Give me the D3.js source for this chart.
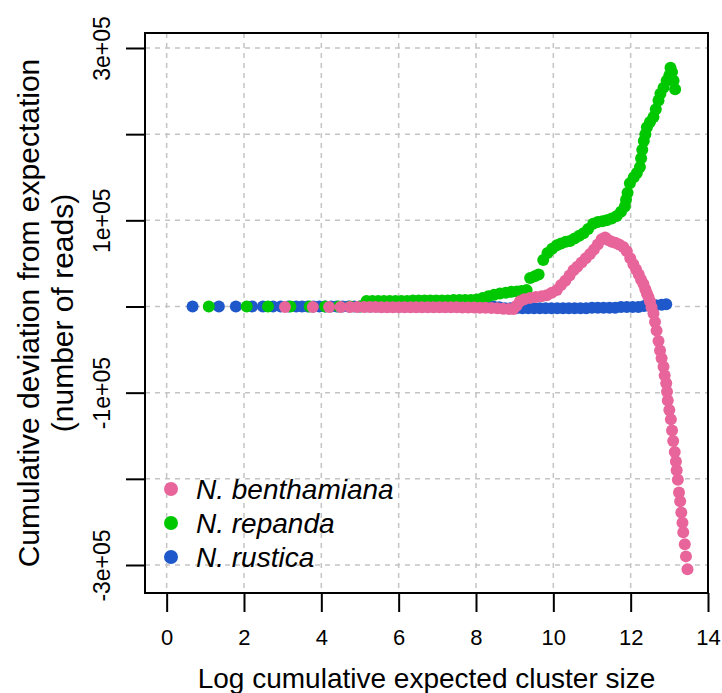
<!DOCTYPE html>
<html>
<head>
<meta charset="utf-8">
<script src="https://cdn.jsdelivr.net/npm/d3@7"></script>
<style>
body{margin:0;background:#fff;}
text{font-family:"Liberation Sans",Arial,sans-serif;fill:#000;}
</style>
</head>
<body>
<script>
//x ticks and y ticks with their labels (R style, every other y label dropped)
var xTicks = [0, 2, 4, 6, 8, 10, 12, 14];
var yTicks = [-300000, -200000, -100000, 0, 100000, 200000, 300000];
var yTickLabels = ["-3e+05", "", "-1e+05", "", "1e+05", "", "3e+05"];

//series names, in legend order
var seriesNames = ["N. benthamiana", "N. repanda", "N. rustica"];

//N. benthamiana: [log cumulative expected size, cumulative deviation]
var benthPts = [
[3.06,-500],[3.78,-500],[4.20,-500],[4.50,-500],[4.74,-500],[4.93,-500],[5.10,-500],[5.25,-500],[5.40,-500],
[5.55,-800],[5.70,-800],[5.85,-800],[6.00,-800],[6.15,-800],[6.30,-800],[6.45,-800],[6.60,-800],
[6.75,-1000],[6.90,-1000],[7.05,-1000],[7.20,-1000],[7.35,-1000],[7.50,-1000],[7.65,-1200],[7.80,-1200],
[7.95,-1200],[8.10,-1500],[8.25,-1500],[8.40,-1800],[8.55,-2000],[8.70,-2500],[8.85,-3000],[8.97,-3000],
[9.05,1000],[9.14,6000],[9.25,8500],[9.40,10000],[9.55,11000],[9.70,12000],[9.83,13000],[9.96,16000],
[10.09,19000],[10.20,25000],[10.31,30000],[10.42,36000],[10.52,42000],[10.62,46000],[10.73,51000],
[10.84,56000],[10.95,61000],[11.05,66000],[11.15,72000],[11.25,78000],[11.34,80000],[11.43,77000],
[11.51,75000],[11.60,74000],[11.70,72000],[11.81,69000],[11.90,64000],[11.99,56000],[12.07,49000],
[12.14,43000],[12.21,37000],[12.27,31000],[12.33,26000],[12.38,20000],[12.42,15000],[12.46,11000],
[12.50,6000],[12.54,-1000],[12.59,-8000],[12.63,-18000],[12.67,-28000],[12.72,-40000],[12.76,-51000],
[12.80,-60000],[12.85,-70000],[12.88,-80000],[12.92,-89000],[12.94,-99000],[12.96,-109000],
[13.00,-120000],[13.04,-131000],[13.07,-144000],[13.10,-156000],[13.14,-169000],[13.17,-180000],
[13.19,-190000],[13.22,-201000],[13.25,-216000],[13.28,-226000],[13.31,-239000],[13.34,-251000],
[13.36,-262000],[13.40,-276000],[13.43,-290000],[13.47,-305000]
];

//N. repanda
var repandaPts = [
[1.09,0],[2.07,0],[2.62,0],[3.20,0],[3.70,0],[4.10,0],[4.45,0],[4.75,0],[5.00,0],
[5.17,6500],[5.32,6500],[5.47,6500],[5.62,6500],[5.77,6500],[5.92,6500],[6.07,6500],[6.22,6500],
[6.37,7000],[6.52,7000],[6.67,7000],[6.82,7000],[6.97,7000],[7.12,7000],[7.27,7000],[7.42,7500],
[7.57,7500],[7.72,7500],[7.87,7500],[8.02,8000],[8.17,10000],[8.32,12000],[8.47,13500],[8.62,15000],
[8.77,16000],[8.92,17000],[9.06,17500],[9.18,18000],[9.31,19000],[9.40,33000],[9.52,35000],[9.62,37000],
[9.74,54000],[9.85,62000],[9.97,67000],[10.09,71000],[10.20,73000],[10.32,75000],[10.43,76000],
[10.55,79000],[10.67,82000],[10.78,85000],[10.90,90000],[11.03,96000],[11.15,98000],[11.27,99000],
[11.38,100000],[11.51,102000],[11.64,105000],[11.75,110000],[11.85,116000],[11.88,124000],[11.92,132000],
[11.98,143000],[12.08,150000],[12.16,155000],[12.24,162000],[12.27,172000],[12.30,182000],[12.34,192000],
[12.38,200000],[12.42,208000],[12.50,214000],[12.59,220000],[12.65,229000],[12.72,239000],[12.77,247000],
[12.85,254000],[12.93,262000],[13.00,268000],[13.03,277000],[13.07,272000],[13.11,262000],[13.15,252000]
];

//N. rustica
var rusticaPts = [
[0.67,0],[1.35,0],[1.79,0],[2.21,0],[2.49,0],[2.75,0],[2.95,0],[3.15,0],[3.35,0],[3.50,0],[3.65,0],
[3.80,0],[3.95,0],[4.10,0],[4.25,0],[4.40,0],[4.55,0],[4.70,0],[4.85,0],[5.00,0],[5.15,0],[5.30,0],
[5.45,0],[5.60,0],[5.75,0],[5.90,0],[6.05,0],[6.20,0],[6.35,0],[6.50,0],[6.65,0],[6.80,0],[6.95,0],
[7.10,0],[7.25,0],[7.40,0],[7.55,0],[7.70,0],[7.85,0],[8.00,0],[8.15,0],[8.30,0],[8.45,0],[8.60,-1000],
[8.75,-2000],[8.90,-2000],[9.05,-2000],[9.20,-2000],[9.35,-2000],[9.50,-2000],[9.65,-2000],[9.80,-2000],
[9.95,-2000],[10.10,-2000],[10.25,-2000],[10.40,-2000],[10.55,-2000],[10.70,-2000],[10.85,-2000],
[11.00,-1500],[11.15,-1500],[11.30,-1500],[11.45,-1500],[11.60,-1500],[11.75,-500],[11.90,-500],
[12.05,-500],[12.20,-500],[12.35,500],[12.50,1000],[12.65,1500],[12.80,2000],[12.92,2500]
];

window.onload = function(){
    //svg dimension variables
    var w = 722, h = 693;
    var left = 145, right = 708, top = 33, bottom = 593;

    var svg = d3.select("body")
        .append("svg")
        .attr("width", w)
        .attr("height", h)
        .style("background-color", "#fff");

    //scales
    var x = d3.scaleLinear().domain([-0.56, 14.0]).range([left, right]);
    var y = d3.scaleLinear().domain([-332500, 317400]).range([bottom, top]);

    var colors = ["#E8659B", "#00C800", "#1E58CA"];

    //dashed grid
    svg.append("g").selectAll("line")
        .data(xTicks)
        .enter()
        .append("line")
        .attr("x1", function(d){ return x(d); })
        .attr("x2", function(d){ return x(d); })
        .attr("y1", top)
        .attr("y2", bottom)
        .style("stroke", "#c4c4c4")
        .style("stroke-width", 1.5)
        .style("stroke-dasharray", "5,5");

    svg.append("g").selectAll("line")
        .data(yTicks)
        .enter()
        .append("line")
        .attr("x1", left)
        .attr("x2", right)
        .attr("y1", function(d){ return y(d); })
        .attr("y2", function(d){ return y(d); })
        .style("stroke", "#c4c4c4")
        .style("stroke-width", 1.5)
        .style("stroke-dasharray", "5,5");

    //points, drawn rustica first and benthamiana on top
    var series = [rusticaPts, repandaPts, benthPts];
    var seriesColors = [colors[2], colors[1], colors[0]];
    series.forEach(function(pts, i){
        svg.append("g").selectAll("circle")
            .data(pts)
            .enter()
            .append("circle")
            .attr("cx", function(d){ return x(d[0]); })
            .attr("cy", function(d){ return y(d[1]); })
            .attr("r", 6)
            .style("fill", seriesColors[i]);
    });

    //box
    svg.append("rect")
        .attr("x", left)
        .attr("y", top)
        .attr("width", right - left)
        .attr("height", bottom - top)
        .style("fill", "none")
        .style("stroke", "#000")
        .style("stroke-width", 2);

    //x axis
    var xAxis = svg.append("g")
        .attr("transform", "translate(0," + bottom + ")")
        .call(d3.axisBottom(x).tickValues(xTicks).tickSize(19).tickSizeOuter(0));
    xAxis.select(".domain").attr("d", "M" + x(0) + ",0H" + x(14)).style("stroke-width", 2);
    xAxis.selectAll(".tick line").style("stroke-width", 2);
    xAxis.selectAll(".tick text")
        .attr("y", 52)
        .attr("dy", 0)
        .style("font-size", "22px")
        .style("font-family", "Liberation Sans, Arial, sans-serif");

    //y axis
    var yAxis = svg.append("g")
        .attr("transform", "translate(" + left + ",0)")
        .call(d3.axisLeft(y).tickValues(yTicks).tickSize(19).tickSizeOuter(0)
            .tickFormat(function(d, i){ return yTickLabels[i]; }));
    yAxis.select(".domain").attr("d", "M0," + y(-300000) + "V" + y(300000)).style("stroke-width", 2);
    yAxis.selectAll(".tick line").style("stroke-width", 2);
    yAxis.selectAll(".tick text")
        .attr("transform", "rotate(-90)")
        .attr("x", 0)
        .attr("y", -35)
        .attr("dy", 0)
        .attr("text-anchor", "middle")
        .style("font-size", "23px")
        .style("font-family", "Liberation Sans, Arial, sans-serif");

    //axis titles
    svg.append("text")
        .attr("x", (left + right) / 2)
        .attr("y", 688)
        .attr("text-anchor", "middle")
        .style("font-size", "28px")
        .text("Log cumulative expected cluster size");

    var yTitle = svg.append("text")
        .attr("transform", "translate(39," + (top + bottom) / 2 + ") rotate(-90)")
        .attr("text-anchor", "middle")
        .style("font-size", "30px");
    yTitle.append("tspan").attr("x", 0).attr("y", 0).text("Cumulative deviation from expectation");
    yTitle.append("tspan").attr("x", 0).attr("y", 34).text("(number of reads)");

    //legend
    var legend = svg.append("g").selectAll("g")
        .data(seriesNames)
        .enter()
        .append("g")
        .attr("transform", function(d, i){ return "translate(171," + (489 + i * 34) + ")"; });
    legend.append("circle")
        .attr("r", 7)
        .style("fill", function(d, i){ return colors[i]; });
    legend.append("text")
        .attr("x", 25)
        .attr("y", 10)
        .style("font-size", "28px")
        .style("font-style", "italic")
        .text(function(d){ return d; });
};
</script>
</body>
</html>
